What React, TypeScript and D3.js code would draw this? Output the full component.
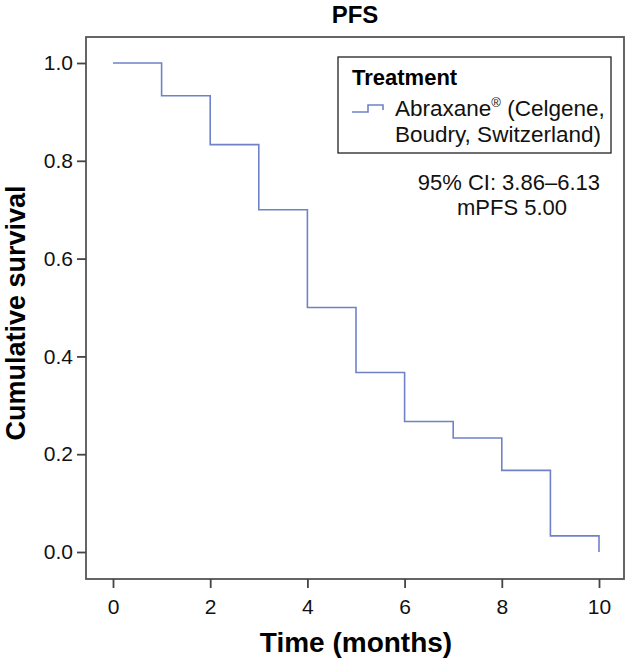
import React, { useEffect, useRef } from "react";
import * as d3 from "d3";

const times = [0, 1, 2, 3, 4, 5, 6, 7, 8, 9, 10];
const survival = [1.0, 0.933, 0.833, 0.7, 0.5, 0.367, 0.267, 0.233, 0.167, 0.033, 0.0];
const xTicks = [0, 2, 4, 6, 8, 10];
const yTicks = [0, 0.2, 0.4, 0.6, 0.8, 1.0];

export default function App() {
  const ref = useRef<SVGSVGElement>(null);

  useEffect(() => {
    const svg = d3.select(ref.current);
    svg.selectAll("*").remove();
    const font = "'Liberation Sans', Arial, sans-serif";
    const lineColor = "#6f82c8";

    const x = d3.scaleLinear().domain([0, 10]).range([113, 599]);
    const y = d3.scaleLinear().domain([0, 1]).range([552, 63]);

    // frame
    svg
      .append("rect")
      .attr("x", 86)
      .attr("y", 37)
      .attr("width", 538)
      .attr("height", 542)
      .attr("fill", "none")
      .attr("stroke", "#555")
      .attr("stroke-width", 1.8);

    const xAxis = svg
      .append("g")
      .attr("transform", "translate(0,579)")
      .call(
        d3.axisBottom(x).tickValues(xTicks).tickSize(9).tickPadding(11).tickFormat(d3.format("d"))
      );
    xAxis.select(".domain").remove();

    const yAxis = svg
      .append("g")
      .attr("transform", "translate(86,0)")
      .call(
        d3.axisLeft(y).tickValues(yTicks).tickSize(9).tickPadding(4).tickFormat(d3.format(".1f"))
      );
    yAxis.select(".domain").remove();

    svg
      .selectAll(".tick line")
      .attr("stroke", "#444")
      .attr("stroke-width", 1.8);
    svg
      .selectAll(".tick text")
      .attr("font-family", font)
      .attr("font-size", 21)
      .attr("fill", "#111");

    // step curve
    const pts: [number, number][] = times.map((t, i) => [t, survival[i]]);
    const line = d3
      .line<[number, number]>()
      .x((d) => x(d[0]))
      .y((d) => y(d[1]))
      .curve(d3.curveStepAfter);
    svg
      .append("path")
      .attr("d", line(pts))
      .attr("fill", "none")
      .attr("stroke", lineColor)
      .attr("stroke-width", 1.6);

    // titles
    svg
      .append("text")
      .attr("x", 355)
      .attr("y", 23)
      .attr("text-anchor", "middle")
      .attr("font-family", font)
      .attr("font-weight", "bold")
      .attr("font-size", 24)
      .text("PFS");

    svg
      .append("text")
      .attr("x", 356)
      .attr("y", 652)
      .attr("text-anchor", "middle")
      .attr("font-family", font)
      .attr("font-weight", "bold")
      .attr("font-size", 28)
      .text("Time (months)");

    svg
      .append("text")
      .attr("transform", "translate(25,313) rotate(-90)")
      .attr("text-anchor", "middle")
      .attr("font-family", font)
      .attr("font-weight", "bold")
      .attr("font-size", 27)
      .text("Cumulative survival");

    // legend
    const lg = svg.append("g");
    lg.append("rect")
      .attr("x", 338)
      .attr("y", 57)
      .attr("width", 273)
      .attr("height", 96)
      .attr("fill", "white")
      .attr("stroke", "#222")
      .attr("stroke-width", 1.3);
    lg.append("text")
      .attr("x", 352)
      .attr("y", 85)
      .attr("font-family", font)
      .attr("font-weight", "bold")
      .attr("font-size", 22)
      .text("Treatment");
    lg.append("path")
      .attr("d", "M352,112 H368 V105 H383 V110")
      .attr("fill", "none")
      .attr("stroke", lineColor)
      .attr("stroke-width", 1.6);
    const t1 = lg
      .append("text")
      .attr("x", 395)
      .attr("y", 116)
      .attr("font-family", font)
      .attr("font-size", 22.5)
      .attr("fill", "#111");
    t1.append("tspan").text("Abraxane");
    t1.append("tspan").attr("font-size", 13).attr("dy", -9).text("®");
    t1.append("tspan").attr("dy", 9).text(" (Celgene,");
    lg.append("text")
      .attr("x", 395)
      .attr("y", 142)
      .attr("font-family", font)
      .attr("font-size", 22.5)
      .attr("fill", "#111")
      .text("Boudry, Switzerland)");

    svg
      .append("text")
      .attr("x", 600)
      .attr("y", 190)
      .attr("text-anchor", "end")
      .attr("font-family", font)
      .attr("font-size", 22)
      .attr("fill", "#111")
      .text("95% CI: 3.86–6.13");
    svg
      .append("text")
      .attr("x", 512)
      .attr("y", 215)
      .attr("text-anchor", "middle")
      .attr("font-family", font)
      .attr("font-size", 22)
      .attr("fill", "#111")
      .text("mPFS 5.00");
  }, []);

  return (
    <svg
      ref={ref}
      width={628}
      height={659}
      style={{ position: "absolute", left: 0, top: 0, background: "white" }}
    />
  );
}
